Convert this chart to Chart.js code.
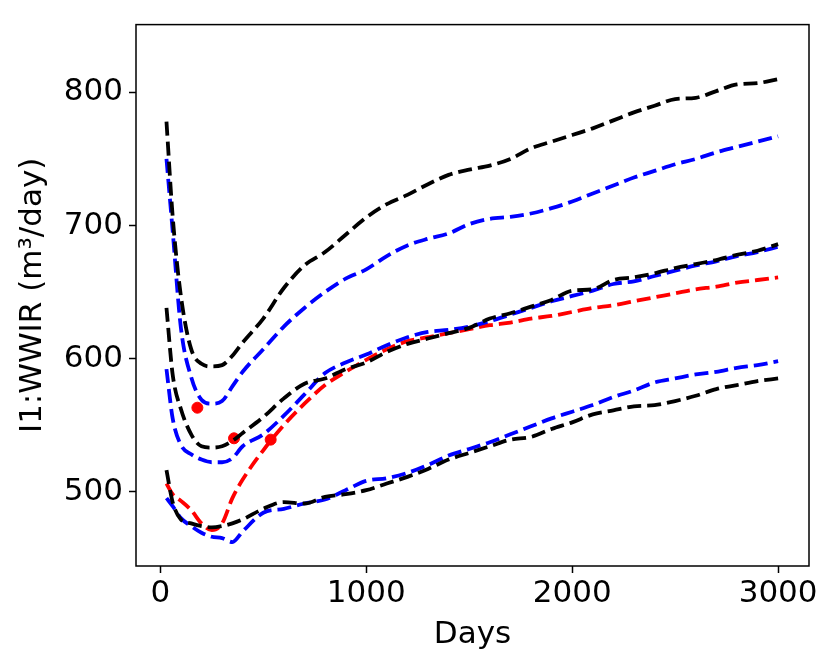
<!DOCTYPE html>
<html>
<head>
<meta charset="utf-8">
<script src="https://cdn.jsdelivr.net/npm/chart.js@4.4.1/dist/chart.umd.min.js"></script>
<style>
    html, body { margin: 0; padding: 0; background: #fff; }
    #wrap { width: 830px; height: 664px; }
</style>
</head>
<body>
<div id="wrap"><canvas id="wwir"></canvas></div>
<script>
// sample days shared by all curves
const days = [30, 60, 100, 150, 200, 250, 300, 350, 400, 500, 600, 700, 800, 900, 1000,
    1100, 1200, 1300, 1400, 1500, 1600, 1700, 1800, 1900, 2000, 2100, 2200, 2300, 2400,
    2500, 2600, 2700, 2800, 2900, 3000];

const blackTop = [778, 707, 647, 607, 596, 594, 595, 602, 612, 630, 653, 670, 680, 693, 706,
    716, 723, 731, 738, 742, 745, 750, 758, 763, 768, 773, 779, 785, 790,
    795, 796, 801, 806, 807, 810];
const blueTop = [750, 696, 623, 586, 569, 566, 568, 579, 590, 607, 624, 638, 650, 660, 667,
    677, 685, 690, 694, 701, 705, 706.5, 709, 713, 718, 724, 730, 736, 741,
    746, 750, 755, 759, 763, 767];
const blackMid = [638, 588, 562, 543, 534, 533, 534, 538, 544, 556, 570, 581, 585, 592, 597,
    605, 611, 615, 619, 623, 630, 634, 639, 644, 651, 652, 659, 661, 664,
    668, 671, 674, 678, 681, 686];
const blueMid = [592, 555, 535, 528, 524, 522, 522, 525, 534, 543, 557, 573, 589, 597, 603,
    610, 616, 620, 621.5, 624, 628, 633, 638, 643, 647, 651, 656, 658, 662,
    666, 670, 673, 677, 680, 684];
const redMean = [506, 498, 493, 486, 476, 471, 476, 495, 509, 531, 550, 566, 580, 590, 599,
    607, 613, 616, 619, 622, 625, 627, 630, 632, 635, 638, 640, 643, 646,
    649, 652, 654, 657, 659, 661];
const blackLow = [516, 492, 479, 476, 474, 473, 474, 476, 479, 487, 492, 491, 496, 498, 501,
    506, 511, 517, 524, 529, 534, 539, 541, 547, 552, 558, 561, 564, 565,
    568, 572, 577, 580, 583, 585];
const blueLow = [495, 489, 480, 474, 469, 466, 465, 462, 470, 484, 487, 491, 494, 501, 508,
    510, 514, 520, 527, 532, 537, 543, 549, 555, 560, 565, 571, 576, 582,
    585, 588, 590, 593, 595, 598];

// observed points
const obsDays = [180, 358, 536];
const obsRate = [563, 540, 539];

const xTicks = [0, 1000, 2000, 3000];
const yTicks = [500, 600, 700, 800];

function toPoints(xs, ys) {
    return xs.map((x, i) => ({x: x, y: ys[i]}));
}

function dashed(data, color) {
    return {
        data: toPoints(days, data),
        borderColor: color,
        borderWidth: 3.8,
        borderDash: [14, 6],
        borderCapStyle: 'butt',
        pointRadius: 0,
        fill: false,
        cubicInterpolationMode: 'monotone'
    };
}

// frame around the plot area, like the matplotlib axes box
const frame = {
    id: 'frame',
    afterDraw(chart) {
        const {ctx, chartArea} = chart;
        ctx.save();
        ctx.strokeStyle = '#000';
        ctx.lineWidth = 1.5;
        ctx.strokeRect(chartArea.left, chartArea.top,
            chartArea.right - chartArea.left, chartArea.bottom - chartArea.top);
        ctx.restore();
    }
};

const font = {family: 'DejaVu Sans', size: 31};

const ctx = document.getElementById('wwir').getContext('2d');
const wwirChart = new Chart(ctx, {
    type: 'line',
    data: {
        datasets: [
            dashed(blackTop, '#000000'),
            dashed(blackMid, '#000000'),
            dashed(blackLow, '#000000'),
            dashed(blueTop, '#0000ff'),
            dashed(blueMid, '#0000ff'),
            dashed(blueLow, '#0000ff'),
            dashed(redMean, '#ff0000'),
            {
                type: 'scatter',
                data: toPoints(obsDays, obsRate),
                backgroundColor: '#ff0000',
                borderColor: '#ff0000',
                pointRadius: 5.5,
                showLine: false
            }
        ]
    },
    options: {
        responsive: true,
        maintainAspectRatio: false,
        animation: false,
        layout: {
            padding: {left: 0, right: 21, top: 20, bottom: 0}
        },
        plugins: {
            legend: {display: false},
            tooltip: {enabled: false}
        },
        scales: {
            x: {
                type: 'linear',
                min: -118,
                max: 3150,
                afterFit(scale) { scale.height = 98; },
                afterBuildTicks(scale) { scale.ticks = xTicks.map(v => ({value: v})); },
                grid: {
                    drawOnChartArea: false,
                    color: '#000',
                    tickLength: 7,
                    tickWidth: 1.5
                },
                border: {display: false},
                ticks: {
                    color: '#000',
                    font: font,
                    padding: 2,
                    maxRotation: 0,
                    callback: v => String(v)
                },
                title: {
                    display: true,
                    text: 'Days',
                    color: '#000',
                    font: font,
                    padding: {top: 0, bottom: 10}
                }
            },
            y: {
                type: 'linear',
                min: 444,
                max: 851,
                afterFit(scale) { scale.width = 136; },
                afterBuildTicks(scale) { scale.ticks = yTicks.map(v => ({value: v})); },
                grid: {
                    drawOnChartArea: false,
                    color: '#000',
                    tickLength: 7,
                    tickWidth: 1.5
                },
                border: {display: false},
                ticks: {
                    color: '#000',
                    font: font,
                    padding: 6,
                    callback: v => String(v)
                },
                title: {
                    display: true,
                    text: 'I1:WWIR (m³/day)',
                    color: '#000',
                    font: font,
                    padding: {top: 14, bottom: 0}
                }
            }
        }
    },
    plugins: [frame]
});
</script>
</body>
</html>
